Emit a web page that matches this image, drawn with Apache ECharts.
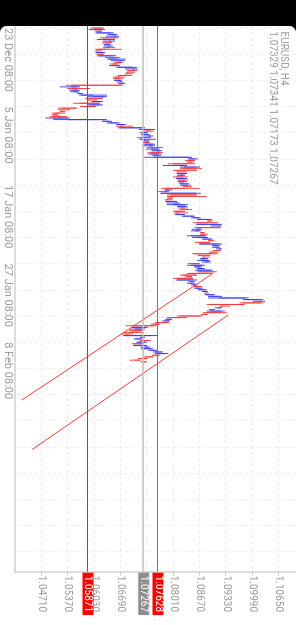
<!DOCTYPE html>
<html><head><meta charset="utf-8">
<script src="https://cdn.jsdelivr.net/npm/echarts@6/dist/echarts.min.js"></script>
<style>
html,body{margin:0;padding:0;background:#000;width:296px;height:625px;overflow:hidden}
#chart{position:absolute;left:0;top:0;width:599px;height:296px;background:#fff;border-radius:7px 0 0 7px;transform-origin:0 0;transform:translate(296px,26px) rotate(90deg);overflow:hidden}
</style></head><body><div id="chart"></div>
<script>
const symbolTitle = 'EURUSD, H4';
const barOpen = [1.0622,1.0601,1.0621,1.0609,1.0645,1.0652,1.0658,1.0625,1.0640,1.0645,
1.0630,1.0638,1.0642,1.0632,1.0612,1.0608,1.0625,1.0614,1.0650,1.0640,
1.0662,1.0672,1.0658,1.0648,1.0662,1.0700,1.0705,1.0690,1.0686,1.0684,
1.0668,1.0666,1.0655,1.0668,1.0670,1.0672,1.0545,1.0560,1.0548,1.0552,
1.0562,1.0570,1.0600,1.0622,1.0592,1.0597,1.0615,1.0590,1.0605,1.0558,
1.0522,1.0525,1.0519,1.0510,1.0520,1.0498,1.0535,1.0625,1.0640,1.0660,
1.0675,1.0668,1.0722,1.0745,1.0722,1.0733,1.0738,1.0745,1.0718,1.0728,
1.0740,1.0730,1.0740,1.0750,1.0745,1.0760,1.0768,1.0745,1.0765,1.0752,
1.0840,1.0855,1.0848,1.0838,1.0800,1.0828,1.0858,1.0825,1.0815,1.0812,
1.0818,1.0825,1.0808,1.0830,1.0815,1.0828,1.0820,1.0838,1.0830,1.0780,
1.0788,1.0770,1.0858,1.0800,1.0798,1.0788,1.0783,1.0805,1.0800,1.0812,
1.0830,1.0825,1.0822,1.0815,1.0808,1.0825,1.0850,1.0865,1.0895,1.0888,
1.0860,1.0915,1.0918,1.0860,1.0855,1.0875,1.0880,1.0845,1.0860,1.0875,
1.0900,1.0890,1.0868,1.0900,1.0905,1.0915,1.0920,1.0905,1.0898,1.0870,
1.0880,1.0870,1.0870,1.0880,1.0866,1.0845,1.0855,1.0862,1.0860,1.0905,
1.0890,1.0858,1.0848,1.0850,1.0810,1.0852,1.0842,1.0850,1.0865,1.0855,
1.0865,1.0875,1.0885,1.0882,1.0895,1.0915,1.0982,1.1015,1.1020,1.0975,
1.0925,1.0912,1.0905,1.0893,1.0922,1.0885,1.0870,1.0818,1.0785,1.0780,
1.0790,1.0765,1.0750,1.0700,1.0705,1.0722,1.0712,1.0690,1.0680,1.0720,
1.0705,1.0738,1.0712,1.0725,1.0702,1.0730,1.0722,1.0745,1.0755,1.0760,
1.0765,1.0750,1.0735,1.0716,1.07329];
const barHigh = [1.0627,1.0630,1.0623,1.0652,1.0660,1.0665,1.0665,1.0655,1.0655,1.0648,
1.0644,1.0650,1.0655,1.0672,1.0622,1.0630,1.0628,1.0657,1.0667,1.0682,
1.0680,1.0674,1.0665,1.0668,1.0710,1.0712,1.0711,1.0705,1.0700,1.0697,
1.0680,1.0675,1.0672,1.0676,1.0680,1.0674,1.0567,1.0592,1.0567,1.0565,
1.0575,1.0635,1.0635,1.0625,1.0610,1.0625,1.0617,1.0625,1.0607,1.0560,
1.0542,1.0530,1.0530,1.0512,1.0535,1.0542,1.0635,1.0647,1.0667,1.0682,
1.0700,1.0730,1.0755,1.0752,1.0737,1.0742,1.0750,1.0745,1.0757,1.0742,
1.0742,1.0755,1.0755,1.0775,1.0767,1.0772,1.0775,1.0772,1.0770,1.0848,
1.0863,1.0855,1.0852,1.0855,1.0835,1.0868,1.0873,1.0860,1.0835,1.0835,
1.0830,1.0838,1.0835,1.0838,1.0835,1.0840,1.0845,1.0848,1.0868,1.0798,
1.0790,1.0870,1.0860,1.0885,1.0800,1.0798,1.0810,1.0818,1.0838,1.0835,
1.0838,1.0848,1.0830,1.0838,1.0830,1.0855,1.0870,1.0898,1.0900,1.0913,
1.0923,1.0922,1.0920,1.0873,1.0870,1.0880,1.0887,1.0885,1.0888,1.0900,
1.0905,1.0893,1.0923,1.0918,1.0918,1.0923,1.0920,1.0913,1.0913,1.0893,
1.0893,1.0888,1.0893,1.0895,1.0868,1.0880,1.0873,1.0880,1.0900,1.0910,
1.0900,1.0860,1.0848,1.0850,1.0860,1.0856,1.0855,1.0862,1.0873,1.0875,
1.0885,1.0888,1.0890,1.0905,1.0923,1.0990,1.1026,1.1031,1.1027,1.0980,
1.0943,1.0923,1.0905,1.0930,1.0935,1.0888,1.0875,1.0836,1.0798,1.0793,
1.0790,1.0768,1.0762,1.0737,1.0730,1.0722,1.0725,1.0700,1.0760,1.0730,
1.0725,1.0745,1.0735,1.0727,1.0735,1.0742,1.0750,1.0760,1.0775,1.0788,
1.0768,1.0752,1.0737,1.0718,1.07341];
const barLow = [1.0594,1.0589,1.0605,1.0606,1.0636,1.0632,1.0617,1.0610,1.0625,1.0622,
1.0626,1.0627,1.0625,1.0605,1.0605,1.0606,1.0608,1.0610,1.0630,1.0635,
1.0645,1.0652,1.0642,1.0640,1.0658,1.0680,1.0685,1.0682,1.0680,1.0662,
1.0650,1.0650,1.0652,1.0660,1.0663,1.0532,1.0517,1.0535,1.0540,1.0542,
1.0560,1.0565,1.0587,1.0580,1.0585,1.0596,1.0550,1.0587,1.0567,1.0512,
1.0512,1.0517,1.0497,1.0497,1.0492,1.0480,1.0500,1.0622,1.0635,1.0658,
1.0657,1.0662,1.0715,1.0725,1.0717,1.0720,1.0722,1.0710,1.0716,1.0725,
1.0725,1.0725,1.0725,1.0735,1.0732,1.0747,1.0737,1.0737,1.0748,1.0728,
1.0838,1.0830,1.0835,1.0787,1.0775,1.0818,1.0818,1.0800,1.0808,1.0810,
1.0810,1.0800,1.0807,1.0810,1.0812,1.0815,1.0818,1.0825,1.0770,1.0778,
1.0763,1.0768,1.0785,1.0785,1.0785,1.0780,1.0780,1.0783,1.0785,1.0810,
1.0812,1.0818,1.0800,1.0803,1.0805,1.0822,1.0845,1.0860,1.0885,1.0850,
1.0858,1.0895,1.0855,1.0848,1.0845,1.0868,1.0868,1.0835,1.0848,1.0873,
1.0888,1.0855,1.0865,1.0898,1.0898,1.0908,1.0900,1.0890,1.0848,1.0863,
1.0873,1.0868,1.0860,1.0872,1.0838,1.0835,1.0853,1.0860,1.0855,1.0860,
1.0835,1.0818,1.0830,1.0800,1.0808,1.0838,1.0835,1.0845,1.0850,1.0853,
1.0862,1.0873,1.0878,1.0880,1.0888,1.0888,1.0975,1.1000,1.0967,1.0885,
1.0918,1.0905,1.0890,1.0885,1.0875,1.0870,1.0810,1.0785,1.0780,1.0773,
1.0755,1.0745,1.0682,1.0697,1.0692,1.0690,1.0675,1.0670,1.0675,1.0717,
1.0702,1.0717,1.0708,1.0697,1.0700,1.0718,1.0720,1.0738,1.0750,1.0755,
1.0747,1.0727,1.0712,1.0692,1.07173];
const barClose = [1.0601,1.0621,1.0609,1.0645,1.0652,1.0658,1.0625,1.0640,1.0645,1.0630,
1.0638,1.0642,1.0632,1.0612,1.0608,1.0625,1.0614,1.0650,1.0640,1.0662,
1.0672,1.0658,1.0648,1.0662,1.0700,1.0705,1.0690,1.0686,1.0684,1.0668,
1.0656,1.0655,1.0668,1.0670,1.0672,1.0545,1.0560,1.0548,1.0560,1.0562,
1.0570,1.0600,1.0628,1.0592,1.0588,1.0618,1.0565,1.0618,1.0575,1.0522,
1.0520,1.0519,1.0505,1.0500,1.0498,1.0535,1.0625,1.0640,1.0660,1.0675,
1.0668,1.0722,1.0745,1.0732,1.0733,1.0738,1.0745,1.0718,1.0730,1.0738,
1.0730,1.0750,1.0748,1.0745,1.0760,1.0768,1.0745,1.0765,1.0752,1.0840,
1.0855,1.0838,1.0838,1.0800,1.0828,1.0858,1.0825,1.0810,1.0812,1.0830,
1.0825,1.0808,1.0830,1.0815,1.0828,1.0820,1.0838,1.0830,1.0780,1.0792,
1.0770,1.0858,1.0795,1.0790,1.0788,1.0783,1.0805,1.0812,1.0830,1.0830,
1.0818,1.0822,1.0805,1.0808,1.0825,1.0850,1.0865,1.0890,1.0888,1.0860,
1.0915,1.0918,1.0860,1.0868,1.0865,1.0870,1.0872,1.0880,1.0882,1.0895,
1.0890,1.0865,1.0915,1.0912,1.0915,1.0920,1.0905,1.0895,1.0855,1.0866,
1.0876,1.0882,1.0888,1.0890,1.0845,1.0872,1.0868,1.0876,1.0895,1.0865,
1.0842,1.0825,1.0835,1.0810,1.0852,1.0842,1.0850,1.0858,1.0855,1.0870,
1.0880,1.0885,1.0882,1.0900,1.0915,1.0982,1.1015,1.1020,1.0975,1.0895,
1.0920,1.0920,1.0893,1.0922,1.0885,1.0875,1.0818,1.0795,1.0795,1.0790,
1.0760,1.0750,1.0700,1.0730,1.0722,1.0698,1.0690,1.0680,1.0745,1.0727,
1.0720,1.0722,1.0730,1.0702,1.0730,1.0738,1.0745,1.0755,1.0770,1.0780,
1.0750,1.0732,1.0716,1.0705,1.07267];

const timeLabels = ['23 Dec 08:00','5 Jan 08:00','17 Jan 08:00','27 Jan 08:00','8 Feb 08:00'];
const timeLabelBars = [0,48,96,144,192];
const timeGridBars = [0,16,32,48,64,80,96,112,128,144,160,176,192,208,224,240,256,272,288,304,320];
const priceTicks = [1.04710,1.05370,1.06030,1.06690,1.07350,1.08010,1.08670,1.09330,1.09990,1.10650];
const priceLabels = [1.04710,1.05370,1.06030,1.06690,1.08010,1.08670,1.09330,1.09990,1.10650];
const levelValues = [1.05871,1.07267,1.07628];
const channelA = [[150.4,1.08979],[227.4,1.04210]];
const channelB = [[175.4,1.09387],[257.5,1.04475]];

const BULL = '#3434f2', BEAR = '#f23434';
const BULL_BODY = '#7a7af6', BEAR_BODY = '#f67a7a';
const levelColors = ['#ff1a1a','#bdbdbd','#ff4040'];
const levelLabelBg = ['#ff0000','#8e8e8e','#ff0000'];
const levelWidths = [1,1.6,1];

const candleData = barOpen.map((o,i)=>[i,o,barClose[i],barLow[i],barHigh[i]]);
const n = barOpen.length - 1;
const lastText = [barOpen[n],barHigh[n],barLow[n],barClose[n]].map(v=>v.toFixed(5)).join(' ');

function renderItem(params, api){
  const i = api.value(0), o = api.value(1), c = api.value(2), l = api.value(3), h = api.value(4);
  const pO = api.coord([i,o]), pC = api.coord([i,c]), pL = api.coord([i,l]), pH = api.coord([i,h]);
  const up = c >= o;
  const x = pO[0];
  return {type:'group', children:[
    {type:'rect', shape:{x:x-0.6, y:Math.min(pO[1],pC[1]), width:1.2, height:Math.max(1,Math.abs(pO[1]-pC[1]))}, style:{fill: up ? BULL_BODY : BEAR_BODY}},
    {type:'rect', shape:{x:x-0.45, y:pH[1], width:0.9, height:Math.max(1,pL[1]-pH[1])}, style:{fill: up ? BULL : BEAR}}
  ]};
}

const chart = echarts.init(document.getElementById('chart'), null, {renderer:'canvas', width:599, height:296});
const axisGray = '#9a9a9a';
chart.setOption({
  animation:false,
  backgroundColor:'#fff',
  grid:{left:0,right:53.3,top:0,bottom:15,containLabel:false,outerBoundsMode:'none'},
  graphic:[
    {type:'text', x:5.5, y:12.7, style:{text:symbolTitle, fill:axisGray, font:'10px Roboto', verticalAlign:'middle'}},
    {type:'text', x:5.5, y:23.5, style:{text:lastText, fill:axisGray, font:'10px Roboto', verticalAlign:'middle'}}
  ],
  xAxis:{type:'value', min:-1.22, max:332.3,
    axisLine:{show:true, onZero:false, lineStyle:{color:'#d0d0d0', width:1.5}},
    axisTick:{show:false, customValues:timeGridBars},
    axisLabel:{customValues:timeLabelBars, formatter:v=>timeLabels[timeLabelBars.indexOf(v)]||'', align:'left', margin:2, color:axisGray, fontSize:11, fontFamily:'Roboto'},
    splitLine:{show:true, lineStyle:{color:'#eeeeee', width:1, type:[3,3]}}
  },
  yAxis:{type:'value', position:'right', min:1.04042, max:1.11084, scale:true,
    axisLine:{show:true, onZero:false, lineStyle:{color:'#d0d0d0', width:1.5}},
    axisTick:{show:true, customValues:priceTicks, length:4, lineStyle:{color:'#c8c8c8'}},
    axisLabel:{customValues:priceLabels, formatter:v=>v.toFixed(5), margin:4, color:axisGray, fontSize:10, fontFamily:'Roboto'},
    splitLine:{show:true, lineStyle:{color:'#eeeeee', width:1, type:[3,3]}}
  },
  series:[
    {type:'custom', renderItem:renderItem, data:candleData, encode:{x:0,y:[1,2,3,4]}, clip:true, silent:true},
    {type:'line', data:channelA, symbol:'none', silent:true, lineStyle:{color:'#ff3838', width:1},
      markLine:{silent:true, symbol:['none','none'], animation:false, precision:5,
        data: levelValues.map((v,k)=>({yAxis:v,
          lineStyle:{color:levelColors[k], width:levelWidths[k], type:'solid'},
          label:{show:true, position:'end', distance:1, formatter:()=>v.toFixed(5), color:'#fff', backgroundColor:levelLabelBg[k], padding:[1,3,0,3], fontSize:10, fontFamily:'Roboto'}}))
      }},
    {type:'line', data:channelB, symbol:'none', silent:true, lineStyle:{color:'#ff3838', width:1}}
  ]
});
</script></body></html>
